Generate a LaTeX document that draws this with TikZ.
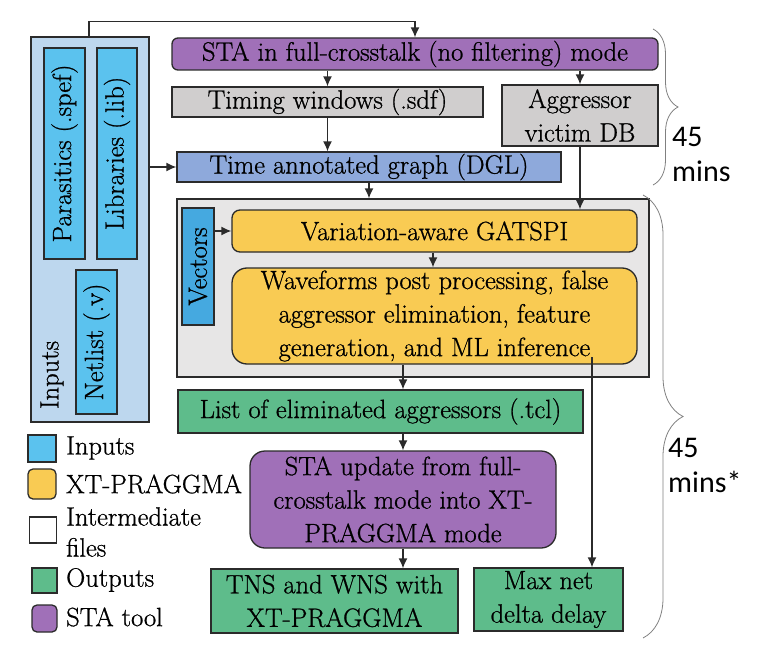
\documentclass[tikz,border=0pt]{standalone}
\usepackage{fontspec}
\usepackage{graphicx}
\setmainfont{Latin Modern Roman}[FakeBold=0.8]
\newfontfamily\calib{Carlito}
\usetikzlibrary{arrows.meta,decorations.pathreplacing}
\definecolor{stapurple}{HTML}{A070B8}
\definecolor{wingray}{HTML}{D0CECE}
\definecolor{dglblue}{HTML}{8EA9DB}
\definecolor{flowgray}{HTML}{E7E6E6}
\definecolor{incyan}{HTML}{5BC2EE}
\definecolor{vecblue}{HTML}{45A9E0}
\definecolor{inpale}{HTML}{BDD7EE}
\definecolor{xtyellow}{HTML}{F9CB53}
\definecolor{outgreen}{HTML}{5EBC8B}
\definecolor{edge}{HTML}{2B2B2B}
\begin{document}
\begin{tikzpicture}[x=1pt,y=-1pt,
	box/.style={draw=edge, line width=1.3pt, inner sep=0pt, align=center,
		font=\fontsize{26.5}{33.5}\selectfont},
	stabox/.style={box, fill=stapurple, rounded corners=6pt},
	filebox/.style={box, fill=wingray},
	xtbox/.style={box, fill=xtyellow, rounded corners=8pt},
	outbox/.style={box, fill=outgreen},
	inbox/.style={box, fill=incyan},
	arr/.style={-{Latex[length=10pt,width=9pt]}, line width=1.4pt, draw=edge},
	brace/.style={draw=gray, line width=0.8pt, decorate},
	mins/.style={anchor=west, align=left, inner sep=0pt, font=\calib\fontsize{30}{35}\selectfont},
	legtext/.style={anchor=west, align=left, inner sep=0pt, font=\fontsize{26.5}{31}\selectfont}]
	\useasboundingbox (0,0) rectangle (758,661);
	% inputs
	\node[box, fill=inpale, minimum width=118pt, minimum height=385pt] (inp) at (90,229.5) {};
	\node[inbox, minimum width=41pt, minimum height=211pt] (par) at (64.5,153.5) {\rotatebox{90}{Parasitics (.spef)}};
	\node[inbox, minimum width=40pt, minimum height=211pt] (lib) at (117,153.5) {\rotatebox{90}{Libraries (.lib)}};
	\node[inbox, minimum width=41pt, minimum height=144pt] (net) at (96.5,342) {\rotatebox{90}{Netlist (.v)}};
	\node[inner sep=0pt, font=\fontsize{26.5}{33}\selectfont] (inlbl) at (52,375) {\rotatebox{90}{Inputs}};
	% first STA run
	\node[stabox, minimum width=486pt, minimum height=32pt] (sta) at (415,54) {STA in full-crosstalk (no filtering) mode};
	\node[filebox, minimum width=311pt, minimum height=30pt] (tw) at (327.5,102) {Timing windows (.sdf)};
	\node[filebox, minimum width=156pt, minimum height=61pt] (avdb) at (580,115.5) {Aggressor\\victim DB};
	\node[box, fill=dglblue, minimum width=384pt, minimum height=30pt] (dgl) at (369,167) {Time annotated graph (DGL)};
	% XT-PRAGGMA
	\node[box, fill=flowgray, minimum width=472pt, minimum height=178pt] (flow) at (413,288) {};
	\node[box, fill=vecblue, minimum width=32pt, minimum height=117pt] (vec) at (198,266.5) {\rotatebox{90}{Vectors}};
	\node[xtbox, minimum width=405pt, minimum height=42pt] (gat) at (434.5,231) {Variation-aware GATSPI};
	\node[xtbox, rounded corners=15pt, minimum width=405pt, minimum height=96pt] (wave) at (434.5,316)
		{Waveforms post processing, false\\aggressor elimination, feature\\generation, and ML inference};
	% outputs
	\node[outbox, minimum width=405pt, minimum height=43pt] (list) at (380.5,411.5) {List of eliminated aggressors (.tcl)};
	\node[stabox, rounded corners=15pt, minimum width=306pt, minimum height=97pt] (upd) at (403,499.5)
		{STA update from full-\\crosstalk mode into XT-\\PRAGGMA mode};
	\node[outbox, minimum width=247pt, minimum height=64pt] (tns) at (334.5,601) {TNS and WNS with\\XT-PRAGGMA};
	\node[outbox, minimum width=149pt, minimum height=63pt] (maxd) at (548.5,599.5) {Max net\\delta delay};
	\coordinate (tap) at (592,357);
	% connectors
	\draw[arr] ([xshift=-1pt]inp.north) -- ++(0,-15) -| (sta.north);
	\draw[arr] (sta.south -| tw.north) -- (tw.north);
	\draw[arr] (avdb.north |- sta.south) -- (avdb.north);
	\draw[arr] (tw.south) -- (tw.south |- dgl.north);
	\draw[arr] (inp.east |- dgl.west) -- (dgl.west);
	\draw[arr] (dgl.south) -- (dgl.south |- flow.north);
	\draw[arr] (avdb.south) -- (avdb.south |- gat.north);
	\draw[arr] (vec.east |- gat.west) -- (gat.west);
	\draw[arr] (gat.south -| 433,0) -- (wave.north -| 433,0);
	\draw[arr] (wave.south -| upd.north) -- (list.north -| upd.north);
	\draw[arr] (list.south -| upd.north) -- (upd.north);
	\draw[arr] (upd.south) -- (upd.south |- tns.north);
	\draw[arr] (tap) -- (tap |- maxd.north);
	% braces
	\draw[brace, decoration={brace, amplitude=25pt}] (653,29) -- (653,185);
	\node[mins] (t1) at (672,154.5) {45\\mins};
	\draw[brace, decoration={brace, amplitude=40pt}] (643,195) -- (643,638);
	\node[mins] (t2) at (668,465.5) {45\\mins*};
	% legend
	\node[inbox, minimum width=28pt, minimum height=27pt] (leg1) at (42,448.5) {};
	\node[xtbox, minimum width=28pt, minimum height=30pt, rounded corners=5pt] (leg2) at (42,484) {};
	\node[box, fill=white, minimum width=27pt, minimum height=26pt] (leg3) at (43,530) {};
	\node[outbox, minimum width=25pt, minimum height=25pt] (leg4) at (44.5,580.5) {};
	\node[stabox, minimum width=25pt, minimum height=27pt, rounded corners=5pt] (leg5) at (44.5,618.5) {};
	\node[legtext] (lt1) at (66,448) {Inputs};
	\node[legtext] (lt2) at (66,484) {XT-PRAGGMA};
	\node[legtext] (lt3) at (66,532) {Intermediate\\files};
	\node[legtext] (lt4) at (66,580) {Outputs};
	\node[legtext] (lt5) at (66,617) {STA tool};
\end{tikzpicture}
\end{document}
